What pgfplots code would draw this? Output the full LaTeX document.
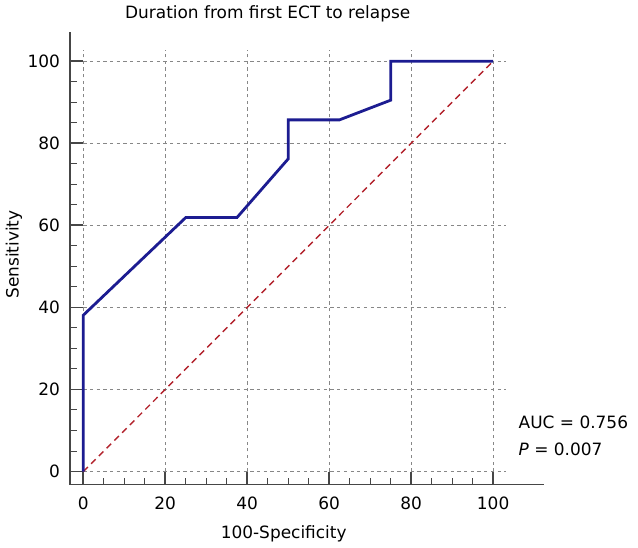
\documentclass[border=0pt]{standalone}
\usepackage{fontspec}
\setmainfont{DejaVu Sans}
\usepackage{pgfplots}
\pgfplotsset{compat=1.18}
\definecolor{roc}{RGB}{28,28,145}
\definecolor{diag}{RGB}{178,34,44}
\definecolor{gridc}{RGB}{135,135,135}
\definecolor{axc}{RGB}{70,70,70}
\begin{document}
\fontsize{17}{20}\selectfont
\begin{tikzpicture}
\begin{axis}[
  x=4.11pt, y=4.115pt,
  xmin=-3.26, xmax=112.3, ymin=-3.23, ymax=107,
  axis x line=bottom, axis y line=left,
  axis line style={-, axc, line width=1.3pt},
  xtick={0,20,...,100}, ytick={0,20,...,100},
  minor x tick num=3, minor y tick num=3,
  tick align=inside,
  major tick length=13.3pt, minor tick length=7pt,
  major tick style={axc, line width=1.8pt},
  minor tick style={axc, line width=1pt},
  xticklabel style={yshift=-6.6pt},
  yticklabel style={xshift=-4.2pt},
  /pgf/number format/assume math mode=true,
  clip=false,
]
% grid
\foreach \v in {0,20,...,100} {
  \edef\tmp{\noexpand\draw[gridc, line width=1.1pt, dash pattern=on 3.3pt off 3.4pt] (axis cs:0,\v) -- (axis cs:103.2,\v);
            \noexpand\draw[gridc, line width=1.1pt, dash pattern=on 3.3pt off 3.4pt] (axis cs:\v,0) -- (axis cs:\v,102.8);}
  \tmp
}
\addplot[diag, line width=1.4pt, dash pattern=on 6.5pt off 4.5pt] coordinates {(0,0)(100,100)};
\addplot[roc, line width=2.8pt, line join=miter] coordinates {
  (0,0)(0,38.1)(25,61.9)(37.5,61.9)(50,76.2)(50,85.7)(62.5,85.7)(75,90.5)(75,100)(100,100)};
% texts
\node[anchor=base] at (axis cs:45.0,110.4) {Duration from first ECT to relapse};
\node[anchor=base] at (axis cs:48.9,-16.35) {100-Specificity};
\node[anchor=base, rotate=90] at (axis cs:-15.8,52.9) {Sensitivity};
\node[anchor=base west, inner sep=0pt] at (axis cs:106.2,10.6) {AUC = 0.756};
\node[anchor=base west, inner sep=0pt] at (axis cs:106.2,3.9) {\textit{P} = 0.007};
% page frame
\path (axis cs:-19.88,-18.47) rectangle (axis cs:135.35,114.46);
\end{axis}
\end{tikzpicture}
\end{document}
